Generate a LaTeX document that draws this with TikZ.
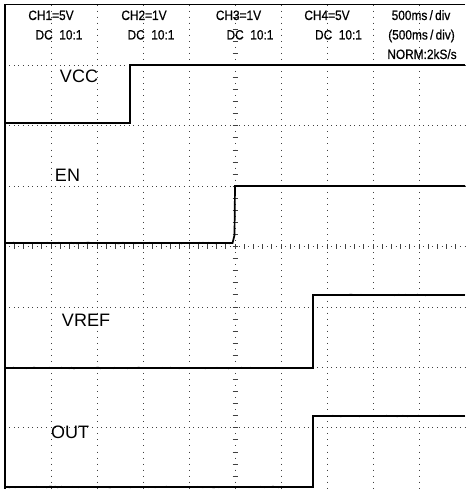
\documentclass[tikz,border=0pt]{standalone}
\usepackage{fontspec}
\usetikzlibrary{decorations.pathmorphing}
\setmainfont{Liberation Sans}
\newfontfamily\hdrfont[FakeStretch=0.88,FakeBold=0.6]{Liberation Sans}
\begin{document}
\begin{tikzpicture}[x=1pt,y=-1pt,
  hgrid/.style={black!75,line width=0.9pt,dash pattern=on 0.9pt off 3.7pt,dash phase=0.45pt},
  vgrid/.style={black!75,line width=0.9pt,dash pattern=on 0.9pt off 5.14pt,dash phase=0.45pt},
  trace/.style={black,line width=1.7pt,line join=miter},
  noise/.style={black,line width=0.8pt,decorate,decoration={random steps,segment length=2pt,amplitude=0.7pt}},
  thintrace/.style={black,line width=1.3pt},
  frameline/.style={black,line width=1.3pt},
  hdr/.style={font=\hdrfont\fontsize{13.5}{15}\selectfont,inner sep=0pt,anchor=base},
  siglabel/.style={font=\fontsize{18}{20}\selectfont,inner sep=0pt}]
\pgfmathsetseed{7}
\useasboundingbox (0,0) rectangle (465,489);
% grid
\foreach \k in {1,2,3,4,6,7,8,9} {
  \draw[vgrid] ({5+46*\k},5) -- ({5+46*\k},489);
}
\foreach \j in {1,2,3,5,6,7} {
  \draw[hgrid] (5,{5+60.4*\j}) -- (465,{5+60.4*\j});
}
% centre axes
\draw[vgrid] (235,5) -- (235,489);
\foreach \i in {1,...,39} {
  \draw[black!75,line width=0.9pt] (232.5,{5+12.08*\i}) -- (237.5,{5+12.08*\i});
}
\draw[hgrid] (5,246.6) -- (465,246.6);
\foreach \i in {1,...,49} {
  \draw[black!75,line width=0.9pt] ({5+9.2*\i},244.2) -- ({5+9.2*\i},249);
}
% frame
\draw[frameline] (465,4.5) -- (5,4.5) -- (5,489);
% header
\node[hdr] (c1) at (51,20) {CH1=5V};
\node[hdr] (d1) at (59,39.5) {DC\ \ 10:1};
\node[hdr] (c2) at (144,20) {CH2=1V};
\node[hdr] (d2) at (151,39.5) {DC\ \ 10:1};
\node[hdr] (c3) at (238.5,20) {CH3=1V};
\node[hdr] (d3) at (250,39.5) {DC\ \ 10:1};
\node[hdr] (c4) at (327,20) {CH4=5V};
\node[hdr] (d4) at (338.5,39.5) {DC\ \ 10:1};
\node[hdr] (t1) at (421,20) {500ms\,/\,div};
\node[hdr] (t2) at (421.5,39.5) {(500ms\,/\,div)};
\node[hdr] (t3) at (422,59) {NORM:2kS/s};
% traces
\coordinate (vcc0) at (5,123);
\coordinate (vcc1) at (130,123);
\coordinate (vcc2) at (130,65);
\coordinate (vcc3) at (465,65);
\draw[thintrace] (vcc0) -- (vcc1) -- (vcc2) -- (vcc3);
\coordinate (en0) at (5,243);
\coordinate (en1) at (232.5,243);
\coordinate (en2) at (234.5,235);
\coordinate (en3) at (235,186);
\coordinate (en4) at (465,186);
\draw[trace] (en0) -- (en1) -- (en2) -- (en3) -- (en4);
\draw[noise] (en0) -- (en1);
\coordinate (vr0) at (5,368);
\coordinate (vr1) at (313,368);
\coordinate (vr2) at (313,295);
\coordinate (vr3) at (465,295);
\draw[trace] (vr0) -- (vr1) -- (vr2) -- (vr3);
\draw[noise] (vr0) -- (vr1);
\draw[noise] (vr2) -- (vr3);
\coordinate (ou0) at (5,487);
\coordinate (ou1) at (313,487);
\coordinate (ou2) at (313,416);
\coordinate (ou3) at (465,416);
\draw[trace] (ou0) -- (ou1) -- (ou2) -- (ou3);
\draw[noise] (ou0) -- (ou1);
\draw[noise] (ou2) -- (ou3);
% labels
\node[siglabel] (lvcc) at (79,76) {VCC};
\node[siglabel] (len) at (67.5,175) {EN};
\node[siglabel] (lvref) at (86,320) {VREF};
\node[siglabel] (lout) at (70,432.5) {OUT};
\end{tikzpicture}
\end{document}
